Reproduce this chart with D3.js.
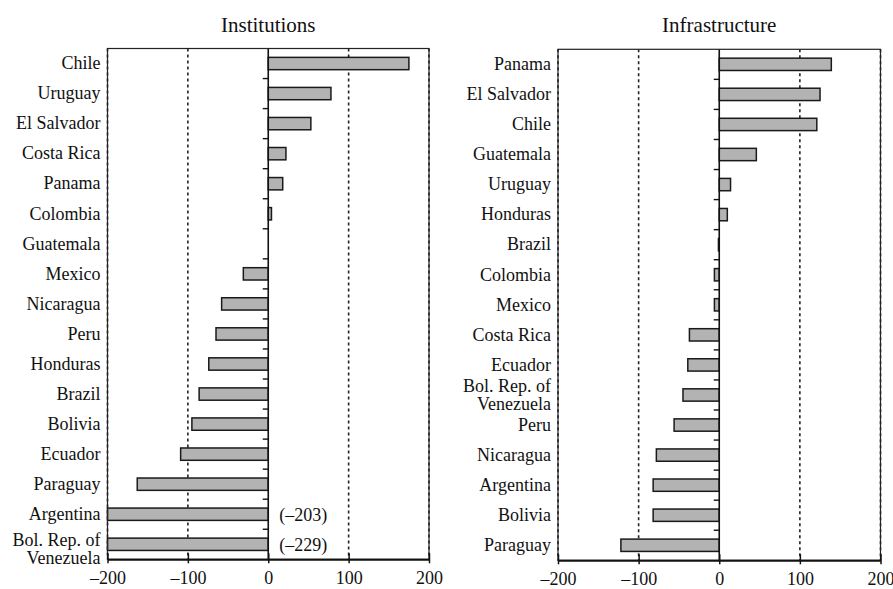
<!DOCTYPE html>
<html><head><meta charset="utf-8">
<script src="https://cdn.jsdelivr.net/npm/d3@7"></script>
<style>body{margin:0;background:#fff}</style>
</head><body><svg id="c" width="893" height="589"></svg>
<script>
const instCategories = ["Chile","Uruguay","El Salvador","Costa Rica","Panama","Colombia","Guatemala","Mexico","Nicaragua","Peru","Honduras","Brazil","Bolivia","Ecuador","Paraguay","Argentina","Bol. Rep. of\nVenezuela"];
const instValues = [175,78,53,22,18,4,0,-31,-58,-65,-74,-86,-95,-109,-163,-203,-229];
const infraCategories = ["Panama","El Salvador","Chile","Guatemala","Uruguay","Honduras","Brazil","Colombia","Mexico","Costa Rica","Ecuador","Bol. Rep. of\nVenezuela","Peru","Nicaragua","Argentina","Bolivia","Paraguay"];
const infraValues = [139,125,121,46,14,10,-1,-6,-6,-37,-39,-45,-56,-78,-82,-82,-122];
const xTicks = [-200,-100,0,100,200];
const gridTicks = [-200,-100,100,200];
const xDomain = [-200,200];

const fmt = d => d < 0 ? "\u2013" + Math.abs(d) : String(d);
const svg = d3.select("#c");
const FONT = "Liberation Serif, Times New Roman, serif";
const INK = "#111";

const panels = [
  {title:"Institutions", cats:instCategories, vals:instValues, x0:107.5, x1:429, y0:48.5, y1:559.3, titleY:32.3, multiShift:1.5},
  {title:"Infrastructure", cats:infraCategories, vals:infraValues, x0:558, x1:880.5, y0:49.3, y1:560.3, titleY:32, multiShift:-3}
];

panels.forEach(p => {
  const g = svg.append("g");
  const x = d3.scaleLinear().domain(xDomain).range([p.x0, p.x1]).clamp(true);
  const y = d3.scaleBand().domain(p.cats).range([p.y0, p.y1]).padding(0);
  const step = y.step();
  const barH = step * 0.41;
  const data = p.cats.map((c,i) => ({c, v:p.vals[i]}));

  // title
  g.append("text").attr("x", (p.x0+p.x1)/2).attr("y", p.titleY)
    .attr("text-anchor","middle").attr("font-family",FONT).attr("font-size",21).attr("fill",INK)
    .text(p.title);

  // dotted gridlines
  g.selectAll(".grid").data(gridTicks).join("line")
    .attr("x1", d => x(d)).attr("x2", d => x(d))
    .attr("y1", p.y0).attr("y2", p.y1)
    .attr("stroke", "#222").attr("stroke-width", 1.6).attr("stroke-dasharray","3,3");

  // bars
  g.selectAll(".bar").data(data.filter(d => d.v !== 0)).join("rect")
    .attr("x", d => Math.min(x(0), x(d.v)))
    .attr("width", d => Math.abs(x(d.v) - x(0)))
    .attr("y", d => y(d.c) + (step - barH)/2)
    .attr("height", barH)
    .attr("fill", "#b3b3b3").attr("stroke", "#1a1a1a").attr("stroke-width", 1.5);

  // out-of-range annotations
  g.selectAll(".ann").data(data.filter(d => d.v < xDomain[0] || d.v > xDomain[1])).join("text")
    .attr("x", x(0) + 11).attr("y", d => y(d.c) + step/2).attr("dy","0.38em")
    .attr("font-family",FONT).attr("font-size",18).attr("fill",INK)
    .text(d => "(" + fmt(d.v) + ")");

  // zero line
  g.append("line").attr("x1", x(0)).attr("x2", x(0)).attr("y1", p.y0).attr("y2", p.y1)
    .attr("stroke", "#111").attr("stroke-width", 1.6);
  // category boundary ticks on zero line
  g.selectAll(".ztick").data(p.cats.slice(1)).join("line")
    .attr("x1", x(0) - 5.5).attr("x2", x(0))
    .attr("y1", d => y(d)).attr("y2", d => y(d))
    .attr("stroke", "#111").attr("stroke-width", 1.4);

  // frame
  g.append("rect").attr("x", p.x0).attr("y", p.y0).attr("width", p.x1 - p.x0).attr("height", p.y1 - p.y0)
    .attr("fill","none").attr("stroke","#222").attr("stroke-width",1.2);

  // category labels
  const lab = g.selectAll(".lab").data(data).join("text")
    .attr("font-family",FONT).attr("font-size",18).attr("fill",INK).attr("text-anchor","end");
  lab.each(function(d){
    const lines = d.c.split("\n");
    const t = d3.select(this);
    const cy = y(d.c) + step/2;
    if (lines.length === 1) {
      t.append("tspan").attr("x", p.x0 - 7).attr("y", cy).attr("dy","0.32em").text(lines[0]);
    } else {
      lines.forEach((l,i) => {
        t.append("tspan").attr("x", p.x0 - 7).attr("y", cy + p.multiShift + i*17.8).text(l);
      });
    }
  });

  // bottom axis
  const ax = g.append("g").attr("transform", `translate(0,${p.y1})`)
    .call(d3.axisBottom(x).tickValues(xTicks).tickFormat(fmt).tickSizeInner(4).tickSizeOuter(0));
  ax.select(".domain").attr("stroke","#111").attr("stroke-width",2);
  ax.selectAll(".tick line").attr("y1",-6).attr("y2",4).attr("stroke","#111").attr("stroke-width",1.5);
  ax.selectAll(".tick text").attr("y",25).attr("dy",0).attr("font-family",FONT).attr("font-size",18).attr("fill",INK);
});
</script>
</body></html>
